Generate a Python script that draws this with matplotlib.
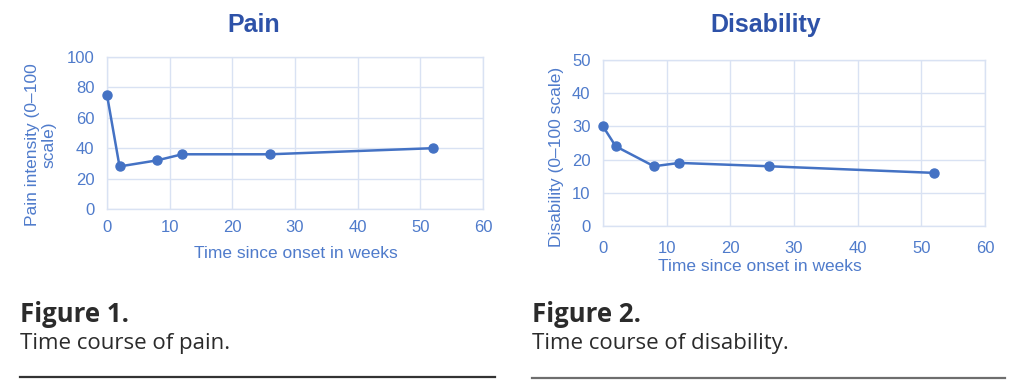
import matplotlib
matplotlib.use("Agg")
import matplotlib.pyplot as plt
from matplotlib.lines import Line2D

weeks = [0, 2, 8, 12, 26, 52]
pain = [75, 28, 32, 36, 36, 40]
disability = [30, 24, 18, 19, 18, 16]

pain_yticks = [0, 20, 40, 60, 80, 100]
dis_yticks = [0, 10, 20, 30, 40, 50]
xticks = [0, 10, 20, 30, 40, 50, 60]

LINE = "#4472C4"
TICK = "#4F7BCB"
TITLE = "#2E52A8"
GRID = "#D9E2F3"
FONT = "Liberation Sans"

W, H = 1024, 386
fig = plt.figure(figsize=(W / 100, H / 100), dpi=100)


def make_ax(box, y, yticks, xpad, ypad):
    l, t, r, b = box
    ax = fig.add_axes([l / W, 1 - b / H, (r - l) / W, (b - t) / H])
    ax.plot(weeks, y, color=LINE, lw=1.8, marker="o", ms=6.5, mfc=LINE, mec=LINE,
            clip_on=False, zorder=3)
    ax.set_xlim(0, 60)
    ax.set_ylim(yticks[0], yticks[-1])
    ax.set_xticks(xticks)
    ax.set_yticks(yticks)
    ax.grid(True, color=GRID, lw=1.0)
    ax.set_axisbelow(True)
    for s in ax.spines.values():
        s.set_color(GRID)
        s.set_linewidth(1.0)
    ax.tick_params(length=0, labelcolor=TICK, labelsize=12)
    ax.tick_params(axis="x", pad=xpad)
    ax.tick_params(axis="y", pad=ypad)
    for lab in ax.get_xticklabels() + ax.get_yticklabels():
        lab.set_fontfamily(FONT)
    return ax


ax1 = make_ax((107, 57, 483, 209), pain, pain_yticks, 8, 9)
ax2 = make_ax((603, 60, 985, 226), disability, dis_yticks, 11, 9)

tkw = dict(family=FONT, color=TICK, fontsize=12.5, ha="center", va="center")
fig.text(295.5 / W, 1 - 254 / H, "Time since onset in weeks", **tkw)
fig.text(759.5 / W, 1 - 266.5 / H, "Time since onset in weeks", **tkw)
fig.text(40.5 / W, 1 - 145 / H, "Pain intensity (0–100\nscale)", rotation=90,
         multialignment="center", linespacing=1.1, **tkw)
fig.text(557 / W, 1 - 157 / H, "Disability (0–100 scale)", rotation=90, **tkw)

ttl = dict(family=FONT, color=TITLE, fontsize=18, fontweight="bold", ha="center", va="center")
fig.text(254 / W, 1 - 25 / H, "Pain", **ttl)
fig.text(766 / W, 1 - 25 / H, "Disability", **ttl)

CAP = "Open Sans"
fig.text(20 / W, 1 - 322 / H, "Figure 1.", family=CAP, fontweight="bold", fontsize=18.5,
         color="#2B2B2B", ha="left", va="baseline")
fig.text(20 / W, 1 - 349 / H, "Time course of pain.", family=CAP, fontsize=16,
         color="#2B2B2B", ha="left", va="baseline")
fig.text(532 / W, 1 - 322 / H, "Figure 2.", family=CAP, fontweight="bold", fontsize=18.5,
         color="#2B2B2B", ha="left", va="baseline")
fig.text(532 / W, 1 - 349 / H, "Time course of disability.", family=CAP, fontsize=16,
         color="#2B2B2B", ha="left", va="baseline")

fig.add_artist(Line2D([20 / W, 495 / W], [1 - 377 / H, 1 - 377 / H], color="#333333", lw=1.6))
fig.add_artist(Line2D([532 / W, 1005 / W], [1 - 378 / H, 1 - 378 / H], color="#6E6E6E", lw=1.6))

fig.savefig("out.png", dpi=100)
